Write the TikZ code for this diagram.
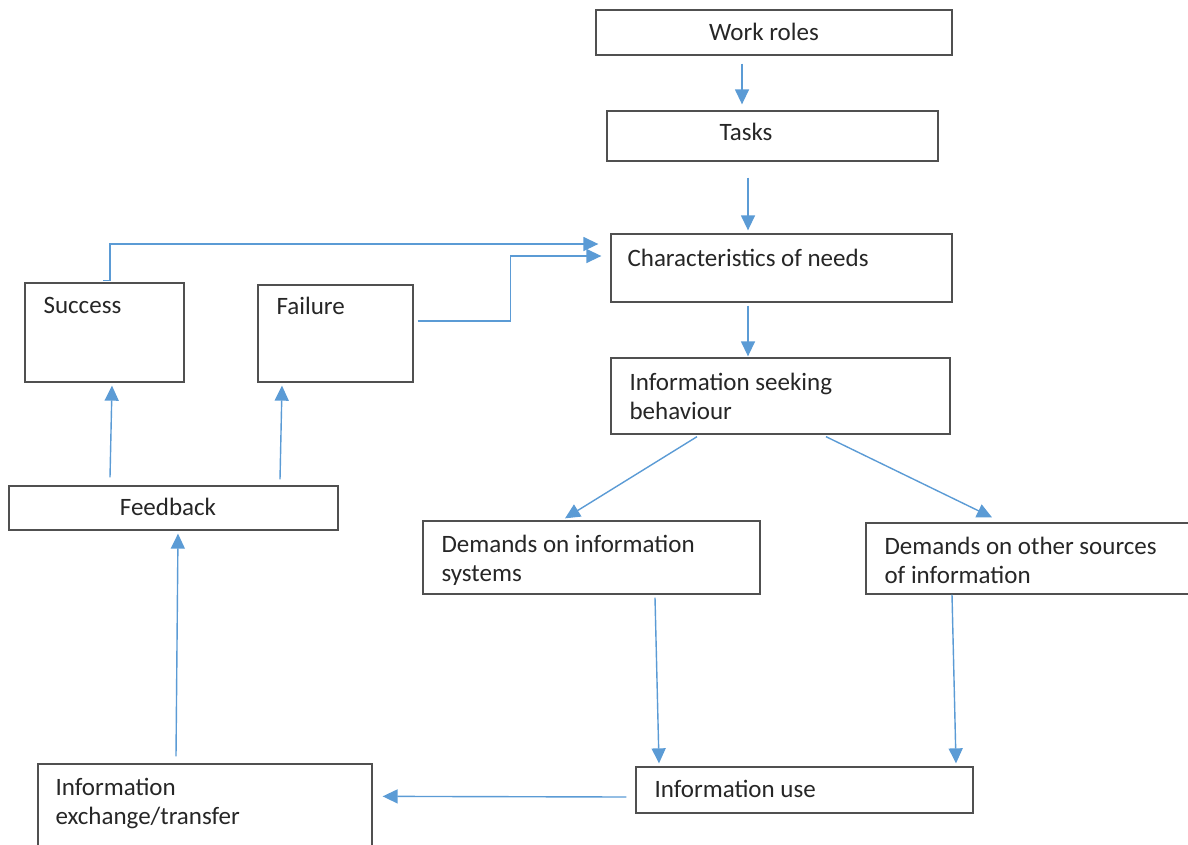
\documentclass[tikz,border=0pt]{standalone}
\usepackage{fontspec}
\setmainfont{Carlito}
\usetikzlibrary{arrows.meta}
\definecolor{arrblue}{HTML}{5B9BD5}
\definecolor{boxgray}{HTML}{505050}
\tikzset{
  box/.style={draw=boxgray, line width=1.3pt, fill=none, inner sep=0pt},
  txt/.style={inner sep=0pt, font=\fontsize{25}{29}\selectfont, align=left, text=black!85},
  arr/.style={draw=arrblue, line width=1.4pt, -{Triangle[length=15pt,width=14pt]}},
}
\begin{document}
\begin{tikzpicture}[x=1pt,y=-1pt]
\useasboundingbox (0,0) rectangle (1188,844);
% boxes
\node[box, minimum width=356pt, minimum height=45pt] (wr) at (774,32.5) {};
\node[box, minimum width=331pt, minimum height=50pt] (tk) at (772.5,136) {};
\node[box, minimum width=341pt, minimum height=68pt] (cn) at (781.5,268) {};
\node[box, minimum width=159pt, minimum height=99pt] (su) at (104.5,332.5) {};
\node[box, minimum width=155pt, minimum height=97pt] (fa) at (335.5,333.5) {};
\node[box, minimum width=339pt, minimum height=76pt] (isb) at (780.5,396) {};
\node[box, minimum width=329pt, minimum height=44pt] (fb) at (173.5,508) {};
\node[box, minimum width=337pt, minimum height=73pt] (dis) at (591.5,557.5) {};
\node[box, minimum width=330pt, minimum height=71pt] (dos) at (1031,558.5) {};
\node[box, minimum width=337pt, minimum height=46pt] (iu) at (804.5,790) {};
\node[box, minimum width=334pt, minimum height=100pt] (iex) at (205,814) {};
% texts
\node[txt, anchor=base] (twr) at ([shift={(-10,7.5)}]wr.center) {Work roles};
\node[txt, anchor=base] (ttk) at ([shift={(-26.5,4)}]tk.center) {Tasks};
\node[txt, anchor=base west] (tcn) at ([shift={(17,33)}]cn.north west) {Characteristics of needs};
\node[txt, anchor=base west] (tsu) at ([shift={(19,31)}]su.north west) {Success};
\node[txt, anchor=base west] (tfa) at ([shift={(19,30)}]fa.north west) {Failure};
\node[txt, anchor=base west] (tisb) at ([shift={(19,62)}]isb.north west) {Information seeking\\behaviour};
\node[txt, anchor=base] (tfb) at ([shift={(-5.5,7)}]fb.center) {Feedback};
\node[txt, anchor=base west] (tdis) at ([shift={(19,61)}]dis.north west) {Demands on information\\systems};
\node[txt, anchor=base west] (tdos) at ([shift={(19,61)}]dos.north west) {Demands on other sources\\of information};
\node[txt, anchor=base west] (tiex) at ([shift={(18,61)}]iex.north west) {Information\\exchange/transfer};
\node[txt, anchor=base west] (tiu) at ([shift={(19,31)}]iu.north west) {Information use};
% arrows
\draw[arr] ([shift={(-32,8)}]wr.south) -- ([shift={(-30.5,-6)}]tk.north);
\draw[arr] ([shift={(-24.5,16)}]tk.south) -- ([shift={(-33.5,-3)}]cn.north);
\draw[arr] ([shift={(-33.5,3)}]cn.south) -- ([shift={(-32.5,-1)}]isb.north);
\draw[arr] ([shift={(-83.5,2)}]isb.south) -- ([shift={(-26.5,-2)}]dis.north);
\draw[arr] ([shift={(45.5,2)}]isb.south) -- ([shift={(-39,-5)}]dos.north);
\draw[arr] ([shift={(63.5,3)}]dis.south) -- ([shift={(-145.5,-3)}]iu.north);
\draw[arr] ([shift={(-79,0)}]dos.south) -- ([shift={(151.5,-3)}]iu.north);
\draw[arr] ([shift={(-9,7)}]iu.west) -- ([shift={(10,33)}]iex.north east);
\draw[arr] ([shift={(-29,-7)}]iex.north) -- ([shift={(4.5,3)}]fb.south);
\draw[arr] ([shift={(-63.5,-8)}]fb.north) -- ([shift={(7.5,3)}]su.south);
\draw[arr] ([shift={(106.5,-6)}]fb.north) -- ([shift={(-53.5,3)}]fa.south);
\draw[arr] ([shift={(-1.5,-2)}]su.north) -- ++(7,0) |- ([shift={(-12,-24)}]cn.west);
\draw[arr] ([shift={(4,-12.5)}]fa.east) -- ++(93,0) |- ([shift={(-9,-12)}]cn.west);
\end{tikzpicture}
\end{document}
